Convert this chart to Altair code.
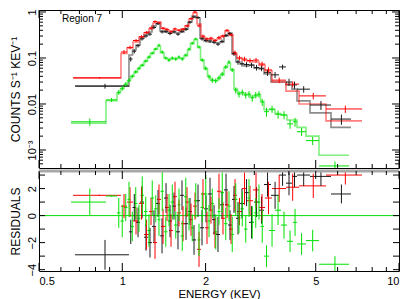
import altair as alt
import pandas as pd

SERIES = ["d1", "d2", "d3"]
COLORS = ["#1a1a1a", "#ff0000", "#00e000"]

# ---------------- dataset 1 (black) ----------------
blk_edges = [0.675, 1.057, 1.089, 1.121, 1.159, 1.198, 1.238, 1.280, 1.324, 1.369,
             1.415, 1.463, 1.512, 1.563, 1.616, 1.671, 1.728, 1.786, 1.847, 1.909,
             1.974, 2.040, 2.110, 2.181, 2.254, 2.331, 2.410, 2.491, 2.576, 2.663,
             2.753, 2.871, 2.992, 3.119, 3.252, 3.446, 3.685, 3.904, 4.104, 4.280,
             4.768, 5.678, 6.707]
blk_model = [0.0245, 0.116, 0.149, 0.192, 0.27, 0.316, 0.367, 0.50, 0.548, 0.386,
             0.367, 0.35, 0.367, 0.35, 0.367, 0.43, 0.606, 0.82, 0.74, 0.27,
             0.235, 0.223, 0.223, 0.212, 0.223, 0.30, 0.35, 0.122, 0.082, 0.074,
             0.067, 0.0706, 0.060, 0.058, 0.045, 0.030, 0.030, 0.026, 0.021, 0.0117,
             0.0064, 0.0031]
blk_data = [0.0245, 0.095, 0.14, 0.185, 0.26, 0.30, 0.33, 0.46, 0.56, 0.37,
            0.38, 0.34, 0.37, 0.33, 0.38, 0.42, 0.60, 0.78, 0.76, 0.26,
            0.24, 0.235, 0.22, 0.20, 0.23, 0.31, 0.34, 0.125, 0.082, 0.075,
            0.072, 0.070, 0.062, 0.060, 0.048, 0.043, 0.064, 0.030, 0.026, 0.021,
            0.0095, 0.0047]
blk_rel = [0.12, 0.12, 0.10, 0.09, 0.08, 0.08, 0.08, 0.07, 0.07, 0.08,
           0.08, 0.08, 0.08, 0.08, 0.08, 0.08, 0.07, 0.06, 0.06, 0.08,
           0.09, 0.09, 0.09, 0.09, 0.09, 0.08, 0.08, 0.11, 0.13, 0.13,
           0.13, 0.13, 0.14, 0.14, 0.15, 0.15, 0.12, 0.18, 0.18, 0.16,
           0.22, 0.25]
blk_res = [-2.9, -1.2, 0.6, -0.5, 1.0, -1.6, -2.0, -0.8, 0.9, -1.5,
           1.3, -0.4, 0.7, -1.2, 1.5, -0.6, 0.3, -1.8, 1.1, -0.9,
           0.5, 1.6, -0.3, -1.4, 0.8, 1.9, -0.7, 1.2, -0.2, 0.9,
           1.7, -0.5, 1.0, 0.4, 2.3, 1.5, 3.0, 2.4, 2.9, 3.0,
           2.9, 1.6]
blk_rerr = [1.1, 0.9, 1.0, 1.1, 1.2, 1.0, 1.1, 1.2, 1.0, 1.3,
            1.1, 1.2, 1.0, 1.3, 1.1, 1.2, 1.0, 1.1, 1.2, 1.3,
            1.0, 1.2, 1.1, 1.3, 1.0, 1.2, 1.1, 1.0, 1.2, 1.1,
            1.0, 1.2, 1.1, 1.0, 0.9, 1.0, 0.8, 0.9, 0.8, 0.8,
            0.7, 0.7]

# ---------------- dataset 2 (red) ----------------
red_edges = [0.664, 0.989, 1.040, 1.093, 1.149, 1.198, 1.249, 1.291, 1.335, 1.380,
             1.427, 1.475, 1.525, 1.576, 1.630, 1.685, 1.742, 1.801, 1.862, 1.925,
             1.990, 2.057, 2.127, 2.199, 2.273, 2.350, 2.430, 2.513, 2.597, 2.707,
             2.822, 2.967, 3.119, 3.279, 3.475, 3.904, 4.352, 5.447, 7.349]
red_model = [0.037, 0.125, 0.165, 0.223, 0.286, 0.35, 0.43, 0.577, 0.606, 0.45,
             0.406, 0.386, 0.406, 0.406, 0.43, 0.50, 0.705, 0.95, 0.548, 0.286,
             0.26, 0.26, 0.246, 0.26, 0.30, 0.386, 0.316, 0.122, 0.10, 0.09,
             0.086, 0.082, 0.07, 0.052, 0.030, 0.019, 0.010, 0.0043]
red_data = [0.037, 0.135, 0.17, 0.24, 0.29, 0.36, 0.45, 0.62, 0.58, 0.44,
            0.42, 0.37, 0.43, 0.40, 0.42, 0.50, 0.72, 1.0, 0.50, 0.30,
            0.26, 0.27, 0.24, 0.28, 0.30, 0.40, 0.32, 0.13, 0.10, 0.095,
            0.088, 0.090, 0.074, 0.055, 0.033, 0.027, 0.015, 0.0078]
red_rel = [0.04, 0.10, 0.09, 0.08, 0.08, 0.07, 0.07, 0.06, 0.06, 0.07,
           0.07, 0.07, 0.07, 0.07, 0.07, 0.07, 0.06, 0.05, 0.07, 0.08,
           0.08, 0.08, 0.08, 0.08, 0.08, 0.07, 0.08, 0.11, 0.12, 0.12,
           0.12, 0.12, 0.13, 0.14, 0.14, 0.15, 0.16, 0.18]
red_res = [1.5, 0.7, 1.0, -0.4, 0.9, -1.4, 0.3, -2.0, 1.2, -0.8,
           0.6, -1.1, 1.4, 0.2, -0.6, 1.0, -0.3, 0.7, -2.5, 1.6,
           -0.9, 0.4, -1.3, 1.8, -0.2, 0.8, -1.0, 1.5, 0.3, 2.0,
           1.1, 1.9, 0.6, 1.3, 2.0, 2.1, 2.2, 3.0]
red_rerr = [0.05, 0.9, 1.1, 1.0, 1.2, 1.1, 1.0, 1.2, 1.1, 1.3,
            1.0, 1.2, 1.1, 1.0, 1.3, 1.1, 1.2, 1.0, 1.3, 1.1,
            1.2, 1.0, 1.1, 1.3, 1.2, 1.0, 1.1, 1.2, 1.0, 1.2,
            1.1, 1.3, 1.0, 1.2, 1.0, 1.0, 0.9, 0.7]

# ---------------- dataset 3 (green) ----------------
grn_edges = [0.653, 0.873, 0.957, 0.985, 1.014, 1.044, 1.071, 1.102, 1.135, 1.163,
             1.198, 1.233, 1.264, 1.302, 1.340, 1.374, 1.415, 1.457, 1.494, 1.538,
             1.583, 1.623, 1.671, 1.721, 1.764, 1.816, 1.870, 1.917, 1.974, 2.032,
             2.084, 2.145, 2.208, 2.264, 2.331, 2.400, 2.460, 2.533, 2.608, 2.674,
             2.753, 2.834, 2.906, 2.992, 3.080, 3.158, 3.252, 3.390, 3.563, 3.746,
             3.937, 4.140, 4.280, 4.612, 5.139, 6.597]
grn_model = [0.0038, 0.0118, 0.0175, 0.0215, 0.026, 0.032, 0.040, 0.049, 0.059, 0.069,
             0.085, 0.103, 0.125, 0.155, 0.18, 0.13, 0.10, 0.092, 0.097, 0.096,
             0.10, 0.098, 0.112, 0.15, 0.205, 0.25, 0.17, 0.09, 0.058, 0.040,
             0.033, 0.032, 0.036, 0.043, 0.062, 0.078, 0.056, 0.021, 0.017, 0.0175,
             0.016, 0.016, 0.014, 0.015, 0.016, 0.0115, 0.0075, 0.0075, 0.0062, 0.0057,
             0.0045, 0.0045, 0.0031, 0.0020, 0.00077]
grn_data = [0.0041, 0.0123, 0.018, 0.022, 0.027, 0.033, 0.040, 0.050, 0.060, 0.070,
            0.086, 0.105, 0.128, 0.157, 0.19, 0.135, 0.10, 0.09, 0.10, 0.095,
            0.105, 0.095, 0.116, 0.157, 0.21, 0.26, 0.174, 0.09, 0.06, 0.039,
            0.033, 0.032, 0.037, 0.045, 0.064, 0.082, 0.055, 0.020, 0.0164, 0.018,
            0.0157, 0.0164, 0.0135, 0.0157, 0.0164, 0.011, 0.0068, 0.0078, 0.006, 0.0058,
            0.0037, 0.0041, 0.0025, 0.0016, 0.00045]
grn_rel = [0.18, 0.10, 0.12, 0.12, 0.11, 0.10, 0.10, 0.09, 0.09, 0.08,
           0.08, 0.08, 0.07, 0.07, 0.07, 0.08, 0.08, 0.09, 0.08, 0.09,
           0.08, 0.09, 0.08, 0.07, 0.07, 0.06, 0.07, 0.09, 0.10, 0.12,
           0.13, 0.12, 0.12, 0.11, 0.10, 0.09, 0.10, 0.15, 0.16, 0.15,
           0.16, 0.16, 0.17, 0.16, 0.16, 0.18, 0.22, 0.18, 0.20, 0.20,
           0.22, 0.22, 0.20, 0.20, 0.25]
grn_res = [1.0, 1.45, 0.2, -0.4, 0.6, 1.2, -0.8, 0.9, -0.2, 1.5,
           0.3, -1.1, 1.3, 0.5, -0.3, 1.8, -1.2, 0.4, 1.0, -0.7,
           0.8, -1.5, 1.4, 0.1, -0.9, 1.1, -1.8, 0.6, 1.6, -0.4,
           0.9, -1.2, 0.3, 1.7, -0.6, 0.7, -1.4, 1.2, -0.2, 0.5,
           -1.0, 1.3, -0.5, 0.2, 1.0, -0.8, -3.0, -1.1, 0.4, -0.7,
           -1.9, -0.5, -2.1, -1.85, -3.6]
grn_rerr = [1.0, 0.05, 1.1, 1.2, 1.0, 1.3, 1.1, 1.2, 1.0, 1.4,
            1.1, 1.2, 1.3, 1.0, 1.2, 1.5, 1.1, 1.2, 1.3, 1.0,
            1.2, 1.1, 1.4, 1.2, 1.0, 1.3, 1.2, 1.1, 1.4, 1.2,
            1.1, 1.3, 1.0, 1.5, 1.2, 1.1, 1.3, 1.2, 1.1, 1.3,
            1.0, 1.4, 1.2, 1.1, 1.3, 1.2, 0.8, 1.2, 1.1, 1.0,
            0.8, 1.0, 0.8, 0.8, 0.6]

# ---------------- axis ticks ----------------
x_major = [0.5, 1, 2, 5, 10]
x_minor = [0.6, 0.7, 0.8, 0.9, 3, 4, 6, 7, 8, 9]
y_major = [0.001, 0.01, 0.1, 1]
y_minor = [0.0005, 0.0006, 0.0007, 0.0008, 0.0009,
           0.002, 0.003, 0.004, 0.005, 0.006, 0.007, 0.008, 0.009,
           0.02, 0.03, 0.04, 0.05, 0.06, 0.07, 0.08, 0.09,
           0.2, 0.3, 0.4, 0.5, 0.6, 0.7, 0.8, 0.9]
r_major = [-4, -2, 0, 2]
r_minor = [-3, -1, 1, 3]


def build(name, edges, data, rel, model, res, rerr):
    rows = []
    for i in range(len(data)):
        lo, hi = edges[i], edges[i + 1]
        rows.append(dict(s=name, lo=lo, hi=hi, c=(lo + hi) / 2, y=data[i],
                         ylo=data[i] * (1 - rel[i]), yhi=data[i] * (1 + rel[i]),
                         r=res[i], rlo=res[i] - rerr[i], rhi=res[i] + rerr[i]))
    steps = [dict(s=name, x=edges[i], m=model[i], o=i) for i in range(len(model))]
    steps.append(dict(s=name, x=edges[-1], m=model[-1], o=len(model)))
    return rows, steps


pts, stp = [], []
for args in [("d1", blk_edges, blk_data, blk_rel, blk_model, blk_res, blk_rerr),
             ("d2", red_edges, red_data, red_rel, red_model, red_res, red_rerr),
             ("d3", grn_edges, grn_data, grn_rel, grn_model, grn_res, grn_rerr)]:
    a, b = build(*args)
    pts += a
    stp += b
pts = pd.DataFrame(pts)
stp = pd.DataFrame(stp)

W, H1, H2 = 360, 158, 100
FONT = "Liberation Sans"

xs = alt.Scale(type="log", domain=[0.5, 10], nice=False)
ys = alt.Scale(type="log", domain=[4.06e-4, 1.105], nice=False)
rs = alt.Scale(domain=[-4.1, 3.3], nice=False, zero=False)
col = alt.Color("s:N", scale=alt.Scale(domain=SERIES, range=COLORS), legend=None)

# one axis definition per panel and channel, shared by every layer
AX_TOP_X = alt.Axis(labels=False, ticks=False, domain=False, grid=False, title=None)
AX_TOP_Y = alt.Axis(values=y_major, labelExpr="datum.value >= 0.005 ? '' + datum.value : '10⁻³'",
                    labelAngle=270, ticks=False, domain=False, grid=False,
                    labelFont=FONT, labelFontSize=11, labelColor="black", labelPadding=2,
                    title="COUNTS S⁻¹ KEV⁻¹", titleFont=FONT, titleFontSize=12,
                    titleFontWeight="normal", titleColor="black", titlePadding=4)
AX_BOT_X = alt.Axis(values=x_major, labelExpr="'' + datum.value", ticks=False, domain=False, grid=False,
                    labelFont=FONT, labelFontSize=11, labelColor="black", labelPadding=4,
                    title="ENERGY (KEV)", titleFont=FONT, titleFontSize=11.5,
                    titleFontWeight="normal", titleColor="black", titlePadding=2)
AX_BOT_Y = alt.Axis(values=r_major, labelAngle=270, ticks=False, domain=False, grid=False,
                    labelFont=FONT, labelFontSize=11, labelColor="black", labelPadding=2,
                    title="RESIDUALS", titleFont=FONT, titleFontSize=12,
                    titleFontWeight="normal", titleColor="black", titlePadding=4)
T_TOP_X, T_TOP_Y = None, "COUNTS S⁻¹ KEV⁻¹"
T_BOT_X, T_BOT_Y = "ENERGY (KEV)", "RESIDUALS"


def X(field, ax, t):
    return alt.X(field, scale=xs, axis=ax, title=t)


def xtick_layers(vals, length, h, ax, t):
    d = pd.DataFrame({"v": vals})
    top = alt.Chart(d).mark_rule(color="black", strokeWidth=1).encode(
        x=X("v:Q", ax, t), y=alt.value(0), y2=alt.value(length))
    bot = alt.Chart(d).mark_rule(color="black", strokeWidth=1).encode(
        x=X("v:Q", ax, t), y=alt.value(h), y2=alt.value(h - length))
    return [top, bot]


def ytick_layers(vals, length, scale, ax, t):
    d = pd.DataFrame({"v": vals})
    left = alt.Chart(d).mark_rule(color="black", strokeWidth=1).encode(
        y=alt.Y("v:Q", scale=scale, axis=ax, title=t), x=alt.value(0), x2=alt.value(length))
    right = alt.Chart(d).mark_rule(color="black", strokeWidth=1).encode(
        y=alt.Y("v:Q", scale=scale, axis=ax, title=t), x=alt.value(W), x2=alt.value(W - length))
    return [left, right]


base = alt.Chart(pts)

t_xbar = base.mark_rule(strokeWidth=1, clip=True).encode(
    x=X("lo:Q", AX_TOP_X, T_TOP_X), x2="hi:Q",
    y=alt.Y("y:Q", scale=ys, axis=AX_TOP_Y, title=T_TOP_Y), color=col)
t_ybar = base.mark_rule(strokeWidth=1, clip=True).encode(
    x=X("c:Q", AX_TOP_X, T_TOP_X),
    y=alt.Y("ylo:Q", scale=ys, axis=AX_TOP_Y, title=T_TOP_Y), y2="yhi:Q", color=col)
t_model = alt.Chart(stp).mark_line(interpolate="step-after", strokeWidth=1.6, opacity=0.5, clip=True).encode(
    x=X("x:Q", AX_TOP_X, T_TOP_X), y=alt.Y("m:Q", scale=ys, axis=AX_TOP_Y, title=T_TOP_Y),
    color=col, detail="s:N", order="o:Q")
label = alt.Chart(pd.DataFrame({"t": ["Region 7"]})).mark_text(
    align="left", baseline="middle", font=FONT, fontSize=10, color="black").encode(
    x=alt.value(23), y=alt.value(9), text="t:N")

top = alt.layer(
    t_model, t_xbar, t_ybar, label,
    *xtick_layers(x_major, 8, H1, AX_TOP_X, T_TOP_X), *xtick_layers(x_minor, 4, H1, AX_TOP_X, T_TOP_X),
    *ytick_layers(y_major, 7, ys, AX_TOP_Y, T_TOP_Y), *ytick_layers(y_minor, 4, ys, AX_TOP_Y, T_TOP_Y),
).properties(width=W, height=H1)

r_xbar = base.mark_rule(strokeWidth=1, clip=True).encode(
    x=X("lo:Q", AX_BOT_X, T_BOT_X), x2="hi:Q",
    y=alt.Y("r:Q", scale=rs, axis=AX_BOT_Y, title=T_BOT_Y), color=col)
r_ybar = base.mark_rule(strokeWidth=1, clip=True).encode(
    x=X("c:Q", AX_BOT_X, T_BOT_X),
    y=alt.Y("rlo:Q", scale=rs, axis=AX_BOT_Y, title=T_BOT_Y), y2="rhi:Q", color=col)
zero = alt.Chart(pd.DataFrame({"z": [0]})).mark_rule(color="#00e000", strokeWidth=1).encode(
    y=alt.Y("z:Q", scale=rs, axis=AX_BOT_Y, title=T_BOT_Y))
sep = alt.Chart(pd.DataFrame({"z": [0]})).mark_rule(color="#a8a8a8", strokeWidth=3).encode(
    y=alt.value(0), x=alt.value(0), x2=alt.value(W))

bottom = alt.layer(
    zero, r_xbar, r_ybar, sep,
    *xtick_layers(x_major, 8, H2, AX_BOT_X, T_BOT_X), *xtick_layers(x_minor, 4, H2, AX_BOT_X, T_BOT_X),
    *ytick_layers(r_major, 6, rs, AX_BOT_Y, T_BOT_Y), *ytick_layers(r_minor, 6, rs, AX_BOT_Y, T_BOT_Y),
).properties(width=W, height=H2)

chart = alt.vconcat(top, bottom, spacing=0).properties(
    padding={"left": 0, "top": 0, "right": 0, "bottom": 0}
).configure_view(stroke="black", strokeWidth=1)
chart.save("out.html", embed_options={"renderer": "svg", "actions": False})
